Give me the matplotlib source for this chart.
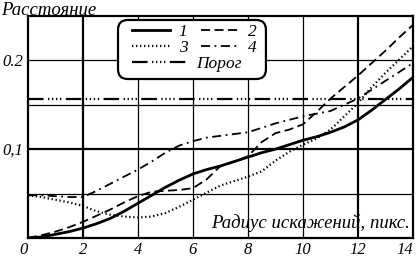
import numpy as np
import matplotlib
matplotlib.use("Agg")
import matplotlib.pyplot as plt
from matplotlib.ticker import FixedLocator, FixedFormatter
from matplotlib.patches import FancyBboxPatch

# Данные
x = [0, 0.5, 1, 1.5, 2, 2.5, 3, 3.5, 4, 4.5, 5, 5.5, 6, 6.5, 7,
     7.5, 8, 8.5, 9, 9.5, 10, 10.5, 11, 11.5, 12, 12.5, 13, 13.5, 14]

d1 = [0.0, 0.001, 0.004, 0.007, 0.011, 0.016, 0.022, 0.030, 0.039, 0.048,
      0.057, 0.065, 0.072, 0.077, 0.081, 0.086, 0.091, 0.096, 0.100, 0.105,
      0.110, 0.114, 0.119, 0.125, 0.133, 0.144, 0.156, 0.168, 0.181]
d2 = [0.0, 0.003, 0.007, 0.012, 0.018, 0.025, 0.032, 0.040, 0.047, 0.052,
      0.053, 0.054, 0.056, 0.066, 0.081, 0.086, 0.092, 0.108, 0.118, 0.122,
      0.128, 0.142, 0.157, 0.170, 0.183, 0.197, 0.211, 0.226, 0.240]
d3 = [0.048, 0.046, 0.043, 0.040, 0.036, 0.030, 0.026, 0.024, 0.023, 0.024,
      0.028, 0.035, 0.043, 0.051, 0.059, 0.064, 0.069, 0.075, 0.087, 0.097,
      0.105, 0.112, 0.122, 0.137, 0.152, 0.170, 0.186, 0.201, 0.216]
d4 = [0.048, 0.048, 0.047, 0.046, 0.046, 0.053, 0.061, 0.069, 0.077, 0.086,
      0.096, 0.104, 0.109, 0.113, 0.115, 0.117, 0.119, 0.124, 0.129, 0.133,
      0.137, 0.140, 0.143, 0.150, 0.157, 0.167, 0.177, 0.187, 0.197]
porog = 0.157

xticks = [0, 2, 4, 6, 8, 10, 12, 14]
xlabels = ["0", "2", "4", "6", "8", "10", "12", "14"]
yticks = [0.1, 0.2]
ylabels = ["0,1", "0.2"]

plt.rcParams['font.family'] = ['Liberation Serif', 'DejaVu Serif']
plt.rcParams['font.style'] = 'italic'

fig = plt.figure(figsize=(4.16, 2.58), dpi=100)
ax = fig.add_axes([0.067, 0.078, 0.926, 0.860])

# Сетка
for xv in [2, 4, 6, 8, 10, 12]:
    lw = 1.6 if xv in (2, 12) else 0.9
    ax.axvline(xv, color='black', lw=lw, zorder=1)
for yv in [0.05, 0.1, 0.15, 0.2]:
    lw = 1.6 if yv == 0.1 else 0.9
    ax.axhline(yv, color='black', lw=lw, zorder=1)

# Кривые
porog_ls = (0, (7, 2, 0.6, 1.2, 0.6, 1.2, 0.6, 1.2, 0.6, 2))
l1, = ax.plot(x, d1, color='black', lw=2.0, ls='-', label='1', zorder=3)
l3, = ax.plot(x, d3, color='black', lw=1.6, ls=(0, (0.6, 1.2)), label='3', zorder=3)
l2, = ax.plot(x, d2, color='black', lw=1.3, ls=(0, (5, 2.5)), label='2', zorder=3)
l4, = ax.plot(x, d4, color='black', lw=1.3, ls=(0, (5, 2.5, 1, 2.5)), label='4', zorder=3)
lp = ax.axhline(porog, color='black', lw=1.6, ls=porog_ls, zorder=2, label='Порог')

ax.set_xlim(0, 14)
ax.set_ylim(0, 0.25)
ax.xaxis.set_major_locator(FixedLocator(xticks))
ax.xaxis.set_major_formatter(FixedFormatter(xlabels))
ax.yaxis.set_major_locator(FixedLocator(yticks))
ax.yaxis.set_major_formatter(FixedFormatter(ylabels))
ax.tick_params(length=0, labelsize=12, pad=3)
for sp in ax.spines.values():
    sp.set_linewidth(1.6)

xtl = ax.get_xticklabels()
xtl[0].set_horizontalalignment('right')
xtl[-1].set_horizontalalignment('right')

fig.text(0.003, 0.992, 'Расстояние', fontsize=13.5, va='top', ha='left')
ax.text(0.993, 0.025, 'Радиус искажений, пикс.', transform=ax.transAxes,
        fontsize=13.5, ha='right', va='bottom')

# Легенда: две колонки 1-4 и отдельная строка «Порог» в общей рамке
leg1 = ax.legend(handles=[l1, l3, l2, l4], ncol=2, loc='upper left',
                 bbox_to_anchor=(0.27, 0.965), fontsize=12.5, frameon=False,
                 handlelength=2.2, handletextpad=0.5, columnspacing=0.8,
                 labelspacing=0.0, borderpad=0.0, borderaxespad=0.0)
ax.add_artist(leg1)
leg2 = ax.legend(handles=[lp], loc='upper left', bbox_to_anchor=(0.27, 0.82),
                 fontsize=12.5, frameon=False, handlelength=3.2,
                 handletextpad=0.5, borderpad=0.0, borderaxespad=0.0)
frame = FancyBboxPatch((0.234, 0.716), 0.384, 0.266, transform=ax.transAxes,
                       boxstyle='round,pad=0,rounding_size=0.025',
                       mutation_aspect=385 / 222, facecolor='white',
                       edgecolor='black', lw=1.6, zorder=4)
ax.add_patch(frame)
leg1.set_zorder(5)
leg2.set_zorder(5)

fig.savefig('out.png', dpi=100)
